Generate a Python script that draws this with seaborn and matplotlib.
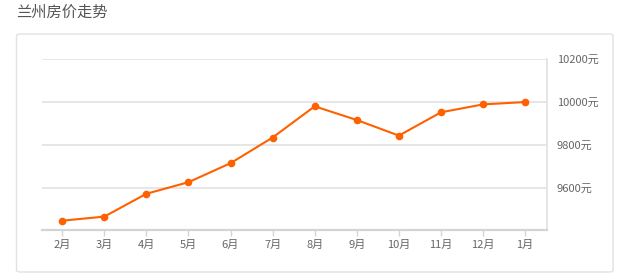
import matplotlib
matplotlib.use("Agg")
import matplotlib.pyplot as plt
import seaborn as sns
import pandas as pd
from matplotlib.patches import FancyBboxPatch

months = ["2月", "3月", "4月", "5月", "6月", "7月", "8月", "9月", "10月", "11月", "12月", "1月"]
prices = [9445, 9464, 9571, 9625, 9714, 9834, 9980, 9916, 9843, 9952, 9989, 10000]
y_ticks = [9600, 9800, 10000, 10200]
y_tick_labels = ["9600元", "9800元", "10000元", "10200元"]
title = "兰州房价走势"

sns.set_theme(style="white")
plt.rcParams['font.family'] = ['Noto Sans CJK SC', 'DejaVu Sans']

df = pd.DataFrame({"idx": range(len(months)), "price": prices})

fig = plt.figure(figsize=(6.22, 2.76), dpi=100)
fig.patch.set_facecolor("white")

# outer panel
panel = FancyBboxPatch((16.5 / 622, 1 - 272 / 276), (613 - 16.5) / 622, (272 - 34) / 276,
                       boxstyle="round,pad=0,rounding_size=0.006", transform=fig.transFigure,
                       facecolor="white", edgecolor="#e2e2e2", linewidth=1.0, zorder=-5)
fig.patches.append(panel)

fig.text(16 / 622, 1 - 12 / 276, title, fontsize=11, color="#555555", ha="left", va="center")

ax = fig.add_axes([42 / 622, 1 - 230.3 / 276, (547 - 42) / 622, (230.3 - 59.3) / 276], zorder=2)
ax.set_facecolor("none")

sns.lineplot(data=df, x="idx", y="price", ax=ax, color="#ff6000", linewidth=1.5,
             marker="o", markersize=5.5, markeredgewidth=0, zorder=3)

ax.set_xlim(-0.48, 11.52)
ax.set_ylim(9400, 10200)
ax.set_xticks(range(len(months)))
ax.set_xticklabels(months)
ax.set_yticks(y_ticks)
ax.set_yticklabels(y_tick_labels)
ax.yaxis.tick_right()
ax.set_xlabel("")
ax.set_ylabel("")

ax.grid(axis="y", color="#e4e4e4", linewidth=1.3)
ax.grid(axis="x", visible=False)
ax.set_axisbelow(True)

for s in ["left", "top"]:
    ax.spines[s].set_visible(False)
ax.spines["right"].set_color("#e0e0e0")
ax.spines["right"].set_linewidth(1.2)
ax.spines["bottom"].set_color("#d4d4d4")
ax.spines["bottom"].set_linewidth(1.6)

ax.tick_params(axis="x", bottom=True, length=4, width=1, color="#d4d4d4",
               labelsize=8, labelcolor="#666666", pad=3)
ax.tick_params(axis="y", right=False, left=False, length=0, labelsize=8,
               labelcolor="#666666", pad=7)

fig.savefig("out.png", dpi=100)
